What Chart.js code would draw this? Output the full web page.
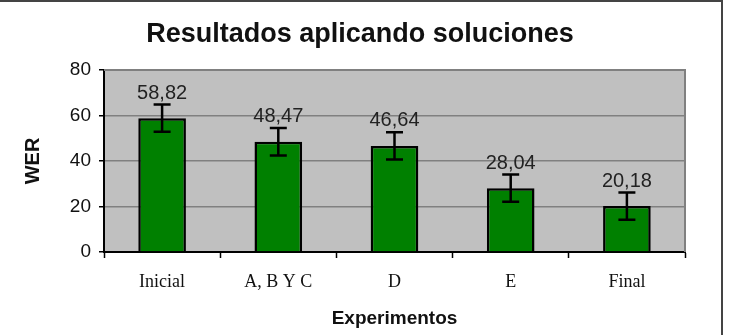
<!DOCTYPE html>
<html><head><meta charset="utf-8">
<script src="https://cdn.jsdelivr.net/npm/chart.js@4/dist/chart.umd.min.js"></script>
<style>
html,body{margin:0;padding:0;background:#fff;}
#wrap{position:relative;width:731px;height:335px;overflow:hidden;}
#frame{position:absolute;left:-4px;top:0;width:727px;height:340px;border-top:2px solid #444;border-right:2px solid #444;box-sizing:border-box;pointer-events:none;}
canvas{position:absolute;left:0;top:0;}
</style></head><body>
<div id="wrap"><canvas id="c" width="731" height="335"></canvas><div id="frame"></div></div>
<script>
const categories = ['Inicial', 'A, B Y C', 'D', 'E', 'Final'];
const werValues = [58.82, 48.47, 46.64, 28.04, 20.18];
const errorValues = [6, 6, 6, 6, 6];
const valueLabels = ['58,82', '48,47', '46,64', '28,04', '20,18'];
const yTickValues = [0, 20, 40, 60, 80];
const chartTitle = 'Resultados aplicando soluciones';

const sans = "'Liberation Sans', Arial, sans-serif";
const serif = "'Liberation Serif', 'Times New Roman', serif";

const plotBg = {
  id: 'plotBg',
  beforeDraw(chart) {
    const {ctx, chartArea: a} = chart;
    ctx.save();
    ctx.fillStyle = '#C0C0C0';
    ctx.fillRect(a.left, a.top, a.right - a.left, a.bottom - a.top);
    ctx.restore();
  },
  afterDraw(chart) {
    const {ctx, chartArea: a} = chart;
    ctx.save();
    ctx.strokeStyle = '#808080';
    ctx.lineWidth = 2;
    ctx.beginPath();
    ctx.moveTo(a.left, a.top);
    ctx.lineTo(a.right, a.top);
    ctx.lineTo(a.right, a.bottom);
    ctx.stroke();
    ctx.fillStyle = '#111';
    ctx.font = 'bold 27px ' + sans;
    ctx.textAlign = 'center';
    ctx.textBaseline = 'alphabetic';
    ctx.fillText(chartTitle, 360, 42);
    ctx.restore();
  }
};

const errAndLabels = {
  id: 'errAndLabels',
  afterDatasetsDraw(chart) {
    const {ctx} = chart;
    const y = chart.scales.y;
    const meta = chart.getDatasetMeta(0);
    ctx.save();
    meta.data.forEach((bar, i) => {
      const v = werValues[i], e = errorValues[i];
      const x = bar.x;
      const yt = y.getPixelForValue(v + e);
      const yb = y.getPixelForValue(v - e);
      ctx.strokeStyle = '#000';
      ctx.lineWidth = 2.5;
      ctx.beginPath();
      ctx.moveTo(x, yt); ctx.lineTo(x, yb);
      ctx.moveTo(x - 8.5, yt); ctx.lineTo(x + 8.5, yt);
      ctx.moveTo(x - 8.5, yb); ctx.lineTo(x + 8.5, yb);
      ctx.stroke();
    });
    meta.data.forEach((bar, i) => {
      ctx.fillStyle = '#222';
      ctx.font = '20px ' + sans;
      ctx.textAlign = 'center';
      ctx.textBaseline = 'middle';
      ctx.fillText(valueLabels[i], bar.x, y.getPixelForValue(werValues[i]) - 25);
    });
    ctx.restore();
  }
};

new Chart(document.getElementById('c'), {
  type: 'bar',
  data: {
    labels: categories,
    datasets: [{
      data: werValues,
      backgroundColor: '#008000',
      borderColor: '#000',
      borderWidth: 2.5,
      barPercentage: 0.41,
      categoryPercentage: 1
    }]
  },
  options: {
    responsive: false,
    animation: false,
    layout: {padding: {left: 0, right: 46, top: 70, bottom: 0}},
    plugins: {
      legend: {display: false},
      tooltip: {enabled: false},
      title: {display: false}
    },
    scales: {
      y: {
        min: 0, max: 80,
        afterFit(s) { s.width = 104; },
        afterBuildTicks(s) { s.ticks = yTickValues.map(v => ({value: v})); },
        ticks: {color: '#111', font: {family: sans, size: 19}, padding: 8},
        grid: {color: '#808080', lineWidth: 1.5, tickLength: 5, tickColor: '#000', tickWidth: 1.5},
        border: {color: '#000', width: 2},
        title: {display: true, text: 'WER', color: '#111', font: {family: sans, size: 20, weight: 'bold', lineHeight: 1.2}, padding: {top: 21, bottom: 0}}
      },
      x: {
        afterFit(s) { s.height = 83; },
        ticks: {color: '#111', font: {family: serif, size: 18}, padding: 13},
        grid: {offset: true, drawOnChartArea: false, tickLength: 6, tickColor: '#000', tickWidth: 1.5},
        border: {color: '#000', width: 2},
        title: {display: true, text: 'Experimentos', color: '#111', font: {family: sans, size: 19, weight: 'bold', lineHeight: 1.2}, padding: {top: 0, bottom: 5}}
      }
    }
  },
  plugins: [plotBg, errAndLabels]
});
</script>
</body></html>
